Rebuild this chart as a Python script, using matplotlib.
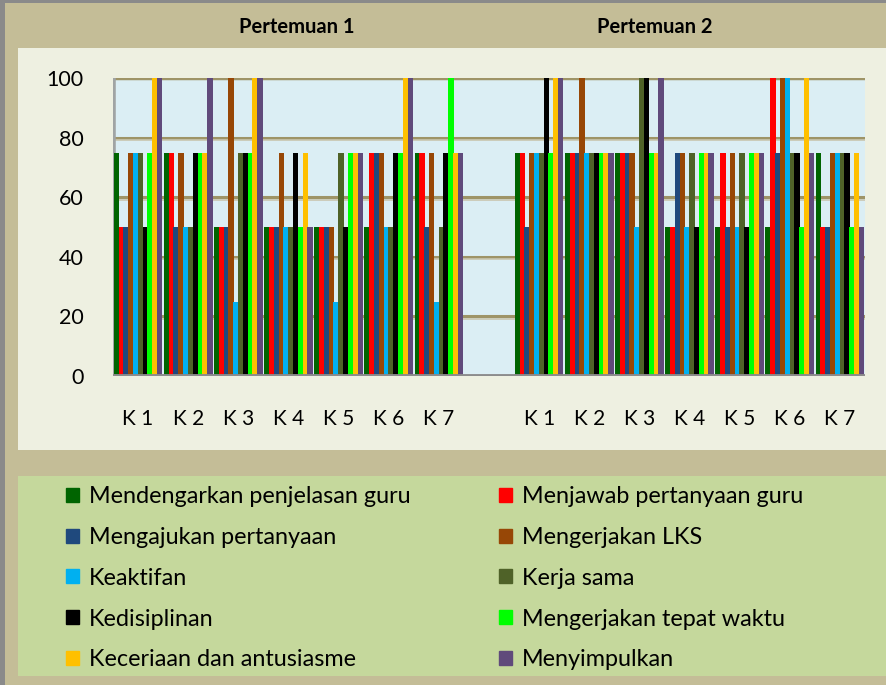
import matplotlib
matplotlib.use("Agg")
import matplotlib.pyplot as plt
import numpy as np
from matplotlib.patches import Rectangle

categories = ["K 1", "K 2", "K 3", "K 4", "K 5", "K 6", "K 7"]
group_titles = ["Pertemuan 1", "Pertemuan 2"]
series_names = [
    "Mendengarkan penjelasan guru", "Menjawab pertanyaan guru",
    "Mengajukan pertanyaan", "Mengerjakan LKS",
    "Keaktifan", "Kerja sama",
    "Kedisiplinan", "Mengerjakan tepat waktu",
    "Keceriaan dan antusiasme", "Menyimpulkan",
]
colors = ["#006400", "#FF0000", "#1F497D", "#974706", "#00B0F0",
          "#4F6228", "#000000", "#00FF00", "#FFC000", "#604A7B"]

# values per category (10 series each)
p1_k1 = [75, 50, 50, 75, 75, 75, 50, 75, 100, 100]
p1_k2 = [75, 75, 50, 75, 50, 50, 75, 75, 75, 100]
p1_k3 = [50, 50, 50, 100, 25, 75, 75, 75, 100, 100]
p1_k4 = [50, 50, 50, 75, 50, 50, 75, 50, 75, 50]
p1_k5 = [50, 50, 50, 50, 25, 75, 50, 75, 75, 75]
p1_k6 = [50, 75, 75, 75, 50, 50, 75, 75, 100, 100]
p1_k7 = [75, 75, 50, 75, 25, 50, 75, 100, 75, 75]
p2_k1 = [75, 75, 50, 75, 75, 75, 100, 75, 100, 100]
p2_k2 = [75, 75, 75, 100, 75, 75, 75, 75, 75, 75]
p2_k3 = [75, 75, 75, 75, 50, 100, 100, 75, 75, 100]
p2_k4 = [50, 50, 75, 75, 50, 75, 50, 75, 75, 75]
p2_k5 = [50, 75, 50, 75, 50, 75, 50, 75, 75, 75]
p2_k6 = [50, 100, 75, 100, 100, 75, 75, 50, 100, 75]
p2_k7 = [75, 50, 50, 75, 75, 75, 75, 50, 75, 50]

pertemuan1 = [p1_k1, p1_k2, p1_k3, p1_k4, p1_k5, p1_k6, p1_k7]
pertemuan2 = [p2_k1, p2_k2, p2_k3, p2_k4, p2_k5, p2_k6, p2_k7]

plt.rcParams["font.family"] = ["Lato", "DejaVu Sans"]

W, H = 887, 685
fig = plt.figure(figsize=(W / 100, H / 100), dpi=100)
fig.patch.set_facecolor("#C4BD97")

def frect(x, y, w, h, **kw):
    # pixel coords from top-left
    fig.add_artist(Rectangle((x / W, 1 - (y + h) / H), w / W, h / H,
                             transform=fig.transFigure, zorder=-5, **kw))

frect(0, 0, W, 3, facecolor="#8A8A8A", edgecolor="none")
frect(0, 0, 5, H, facecolor="#8A8A8A", edgecolor="none")
frect(18, 48, W - 18, 402, facecolor="#EEF0E1", edgecolor="none")
frect(18, 476, W - 18, 200, facecolor="#C5D89C", edgecolor="none")

ax = fig.add_axes([113 / W, 309 / H, 752 / W, 298 / H])
ax.set_facecolor("#DBEEF4")
ax.set_zorder(2)

positions = list(range(7)) + [p + 8 for p in range(7)]
all_vals = pertemuan1 + pertemuan2
nser = len(series_names)
cluster = 0.96
bw = cluster / nser
for s in range(nser):
    xs = [p - cluster / 2 + bw * (s + 0.5) for p in positions]
    ys = [all_vals[c][s] for c in range(len(positions))]
    ax.bar(xs, ys, width=bw * 1.12, color=colors[s], edgecolor="none",
           zorder=3, label=series_names[s])

ax.set_xlim(-0.5, 14.5)
ax.set_ylim(0, 100)
ax.set_yticks([0, 20, 40, 60, 80, 100])
ax.set_xticks(positions)
ax.set_xticklabels(categories + categories)
for y in [20, 40, 60, 80]:
    ax.axhline(y, color="#9E9467", lw=2.2, zorder=1)
    ax.axhline(y - 0.8, color="#C9C6B0", lw=1.2, zorder=1)
ax.axhline(100, color="#9E9467", lw=2.5, zorder=1)
ax.axhline(0, color="#8C8C8C", lw=3.5, zorder=4)
for sp in ax.spines.values():
    sp.set_visible(False)
ax.axvline(-0.5, color="#A0A4A4", lw=4, zorder=1)
ax.tick_params(axis="both", length=0, colors="black")
ax.tick_params(axis="x", pad=24, labelsize=15)
ax.tick_params(axis="y", pad=21, labelsize=15.5)

fig.text(297 / W, 1 - 27 / H, group_titles[0], ha="center", va="center",
         fontsize=14.5, fontweight="bold")
fig.text(655 / W, 1 - 27 / H, group_titles[1], ha="center", va="center",
         fontsize=14.5, fontweight="bold")

order = [0, 2, 4, 6, 8, 1, 3, 5, 7, 9]
leg_handles = [Rectangle((0, 0), 1, 1, color=colors[i]) for i in order]
leg_labels = [series_names[i] for i in order]
leg = fig.legend(leg_handles, leg_labels, ncol=2,
                 loc="upper left", bbox_to_anchor=(66 / W, 1 - 486 / H),
                 frameon=False, fontsize=16.8, handlelength=0.55,
                 handleheight=0.55, handletextpad=0.42, labelspacing=0.85,
                 columnspacing=3.8, borderpad=0, borderaxespad=0)
leg.set_zorder(3)

fig.savefig("out.png", dpi=100, facecolor=fig.get_facecolor())
